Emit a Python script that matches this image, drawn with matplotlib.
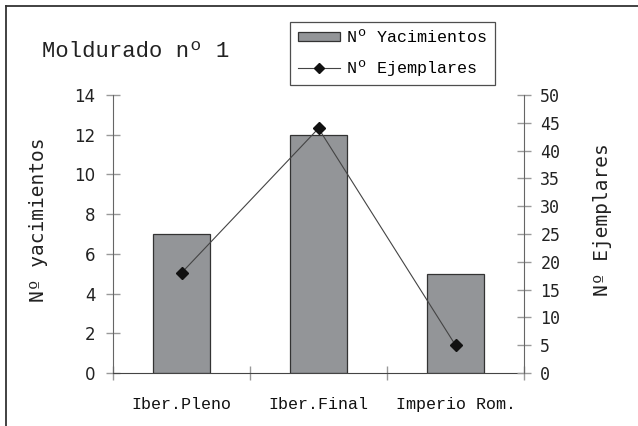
import matplotlib
matplotlib.use("Agg")
import matplotlib.pyplot as plt
from matplotlib.lines import Line2D
import numpy as np

# Data
categories = ["Iber.Pleno", "Iber.Final", "Imperio Rom."]
yacimientos = [7, 12, 5]
ejemplares = [18, 44, 5]
left_ticks = [0, 2, 4, 6, 8, 10, 12, 14]
right_ticks = [0, 5, 10, 15, 20, 25, 30, 35, 40, 45, 50]

W, H = 638, 426
fig = plt.figure(figsize=(W / 100, H / 100), dpi=100)

ax = fig.add_axes([113 / W, (H - 373) / H, (524 - 113) / W, (373 - 95) / H])
ax2 = ax.twinx()

x = np.arange(len(categories))
bars = ax.bar(x, yacimientos, width=0.42, color="#939598",
              edgecolor="#333333", linewidth=0.9, zorder=2)
line, = ax2.plot(x, ejemplares, color="#444444", linewidth=0.8,
                 marker="D", markersize=6.5, markerfacecolor="#111111",
                 markeredgecolor="#111111", zorder=3)

ax.set_xlim(-0.5, len(categories) - 0.5)
ax.set_ylim(0, 14)
ax2.set_ylim(0, 50)

spine_col = "#666666"
tick_col = "#999999"
for a in (ax, ax2):
    a.spines["top"].set_visible(False)
    a.spines["bottom"].set_color("#444444")
ax.spines["right"].set_visible(False)
ax2.spines["left"].set_visible(False)
ax.spines["left"].set_color(spine_col)
ax2.spines["right"].set_color(spine_col)
ax2.spines["bottom"].set_visible(False)

ax.set_yticks(left_ticks)
ax.set_yticklabels([str(t) for t in left_ticks], family="DejaVu Sans", fontsize=12)
ax.tick_params(axis="y", direction="inout", length=9.5, width=1,
               color=tick_col, pad=8, labelcolor="#222222")

ax2.set_yticks(right_ticks)
ax2.set_yticklabels([str(t) for t in right_ticks], family="DejaVu Sans Mono", fontsize=12)
ax2.tick_params(axis="y", direction="inout", length=9.5, width=1,
                color=tick_col, pad=7, labelcolor="#222222")

# Category labels centred, tick marks between categories
ax.set_xticks(x)
ax.set_xticklabels(categories, family="Liberation Mono", fontsize=12)
ax.tick_params(axis="x", which="major", length=0, pad=17, labelcolor="#111111")
ax.set_xticks(np.arange(-0.5, len(categories)), minor=True)
ax.tick_params(axis="x", which="minor", direction="inout", length=9.5,
               width=1, color=tick_col)

ax.set_ylabel("Nº yacimientos", family="DejaVu Sans Mono", fontsize=14,
              color="#222222")
ax.yaxis.set_label_coords(-0.158, 0.55)
ax2.set_ylabel("Nº Ejemplares", family="DejaVu Sans Mono", fontsize=14,
               color="#222222", rotation=90)
ax2.yaxis.set_label_coords(1.168, 0.55)

# Title
fig.text(42 / W, 1 - 57 / H, "Moldurado nº 1", family="Liberation Mono",
         fontsize=16, va="baseline", ha="left", color="#222222")

# Legend
handles = [bars, Line2D([], [], color="#444444", linewidth=0.8, marker="D",
                        markersize=5, markerfacecolor="#111111",
                        markeredgecolor="#111111")]
leg = fig.legend(handles, ["Nº Yacimientos", "Nº Ejemplares"],
                 loc="upper left", bbox_to_anchor=(290 / W, 1 - 22 / H),
                 borderaxespad=0, frameon=True, fancybox=False,
                 prop={"family": "Liberation Mono", "size": 12},
                 handlelength=2.5, handleheight=0.5, handletextpad=0.4,
                 labelspacing=0.9, borderpad=0.5)
leg.get_frame().set_edgecolor("#222222")
leg.get_frame().set_linewidth(0.9)

# Outer frame (top and left edges)
fig.add_artist(Line2D([6 / W, 1], [1 - 5.5 / H, 1 - 5.5 / H],
                      transform=fig.transFigure, color="#333333", linewidth=1.3))
fig.add_artist(Line2D([6 / W, 6 / W], [1 - 5.5 / H, 0],
                      transform=fig.transFigure, color="#333333", linewidth=1.3))

fig.savefig("out.png", dpi=100)
